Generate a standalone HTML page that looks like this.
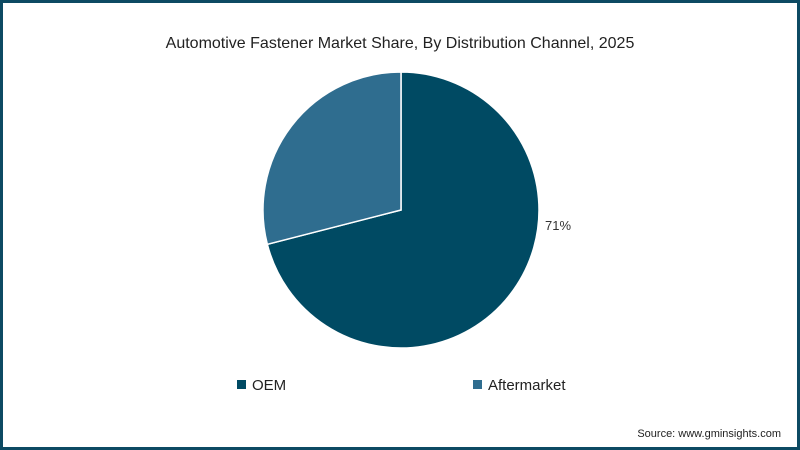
<!DOCTYPE html>
<html><head><meta charset="utf-8"><style>
html,body{margin:0;padding:0}
body{width:800px;height:450px;overflow:hidden;background:#fff;font-family:"Liberation Sans",sans-serif}
#frame{position:absolute;left:0;top:0;width:794px;height:444px;border:3px solid #0d4a63;background:#fff}
</style></head><body>
<div id="frame"></div>
<svg id="chart" width="800" height="450" style="position:absolute;left:0;top:0">
<text x="400" y="48" text-anchor="middle" font-size="16" fill="#222">Automotive Fastener Market Share, By Distribution Channel, 2025</text>
<g id="slices"></g>
<text x="545" y="230" font-size="13" fill="#333">71%</text>
<rect x="237" y="380" width="9" height="9" fill="#004a63"/>
<text x="252" y="390" font-size="15" fill="#222">OEM</text>
<rect x="473" y="380" width="9" height="9" fill="#2f6d8f"/>
<text x="488" y="390" font-size="15" fill="#222">Aftermarket</text>
<text x="781" y="437" text-anchor="end" font-size="11" fill="#222">Source: www.gminsights.com</text>
</svg>
<script>
const categories = ["OEM", "Aftermarket"];
const values = [71, 29];
const colors = ["#004a63", "#2f6d8f"];
const cx = 401, cy = 210, r = 138;
const g = document.getElementById('slices');
const total = values.reduce((a,b)=>a+b,0);
let a0 = 0;
function pt(a){return [cx + r*Math.sin(a), cy - r*Math.cos(a)];}
values.forEach((v,i)=>{
  const a1 = a0 + v/total*2*Math.PI;
  const p0 = pt(a0), p1 = pt(a1);
  const large = (a1-a0) > Math.PI ? 1 : 0;
  const p = document.createElementNS('http://www.w3.org/2000/svg','path');
  p.setAttribute('d', `M${cx},${cy} L${p0[0]},${p0[1]} A${r},${r} 0 ${large} 1 ${p1[0]},${p1[1]} Z`);
  p.setAttribute('fill', colors[i]);
  p.setAttribute('stroke', '#fff');
  p.setAttribute('stroke-width', '1.5');
  
  
  g.appendChild(p);
  a0 = a1;
});
</script>
</body></html>
